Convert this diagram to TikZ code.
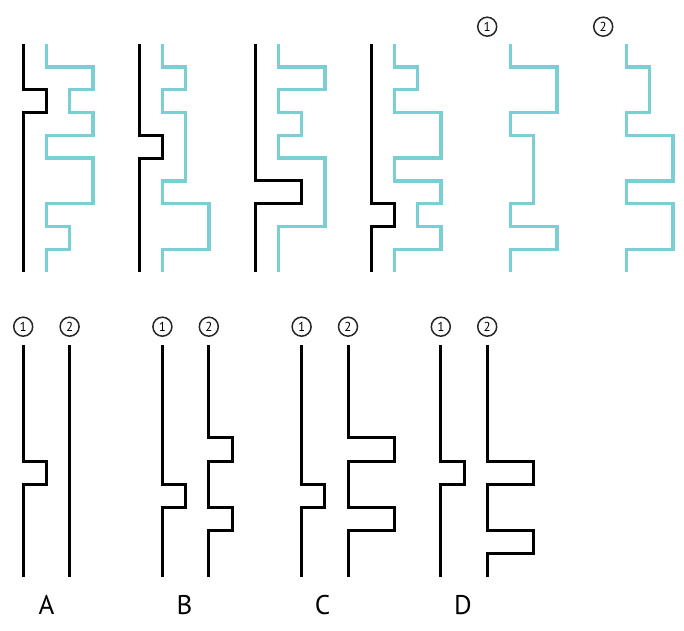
\documentclass[tikz,border=0pt]{standalone}
\usepackage{fontspec}
\setmainfont{PT Sans}
\definecolor{tealline}{RGB}{122,207,212}
\tikzset{
  blk/.style={line width=3pt, black, line join=miter, line cap=butt},
  cyn/.style={line width=3.4pt, tealline, line join=miter, line cap=butt},
  numc/.style={circle, draw=black!85, line width=1.5pt, minimum size=19pt, inner sep=0pt, font=\fontsize{13}{13}\selectfont},
  lbl/.style={font=\fontsize{27}{27}\selectfont, inner sep=0pt}
}
\begin{document}
\begin{tikzpicture}[x=1pt,y=-1pt]
\useasboundingbox (0,0) rectangle (684,630);
% ---------------- top row ----------------
\begin{scope}[x=23.2pt,y=-22.8pt,yshift=-44pt]
  % panel 1
  \draw[blk] (1,0)--(1,2)--(2,2)--(2,3)--(1,3)--(1,10);
  \draw[cyn] (2,0)--(2,1)--(4,1)--(4,2)--(3,2)--(3,3)--(4,3)--(4,4)--(2,4)--(2,5)--(4,5)--(4,7)--(2,7)--(2,8)--(3,8)--(3,9)--(2,9)--(2,10);
  % panel 2
  \draw[blk] (6,0)--(6,4)--(7,4)--(7,5)--(6,5)--(6,10);
  \draw[cyn] (7,0)--(7,1)--(8,1)--(8,2)--(7,2)--(7,3)--(8,3)--(8,6)--(7,6)--(7,7)--(9,7)--(9,9)--(7,9)--(7,10);
  % panel 3
  \draw[blk] (11,0)--(11,6)--(13,6)--(13,7)--(11,7)--(11,10);
  \draw[cyn] (12,0)--(12,1)--(14,1)--(14,2)--(12,2)--(12,3)--(13,3)--(13,4)--(12,4)--(12,5)--(14,5)--(14,8)--(12,8)--(12,10);
  % panel 4
  \draw[blk] (16,0)--(16,7)--(17,7)--(17,8)--(16,8)--(16,10);
  \draw[cyn] (17,0)--(17,1)--(18,1)--(18,2)--(17,2)--(17,3)--(19,3)--(19,5)--(17,5)--(17,6)--(19,6)--(19,7)--(18,7)--(18,8)--(19,8)--(19,9)--(17,9)--(17,10);
  % strands 1 and 2
  \node[numc] (t1) at (21,-0.76) {1};
  \node[numc] (t2) at (26,-0.76) {2};
  \draw[cyn] (22,0)--(22,1)--(24,1)--(24,3)--(22,3)--(22,4)--(23,4)--(23,7)--(22,7)--(22,8)--(24,8)--(24,9)--(22,9)--(22,10);
  \draw[cyn] (27,0)--(27,1)--(28,1)--(28,3)--(27,3)--(27,4)--(29,4)--(29,6)--(27,6)--(27,7)--(29,7)--(29,9)--(27,9)--(27,10);
\end{scope}
% ---------------- bottom row ----------------
\begin{scope}[x=23.2pt,y=-23.2pt,yshift=-345pt]
  % A
  \node[numc] (a1) at (1,-0.79) {1};
  \node[numc] (a2) at (3,-0.79) {2};
  \draw[blk] (1,0)--(1,5)--(2,5)--(2,6)--(1,6)--(1,10);
  \draw[blk] (3,0)--(3,10);
  \node[lbl] (la) at (2,11.2) {A};
  % B
  \node[numc] (b1) at (7,-0.79) {1};
  \node[numc] (b2) at (9,-0.79) {2};
  \draw[blk] (7,0)--(7,6)--(8,6)--(8,7)--(7,7)--(7,10);
  \draw[blk] (9,0)--(9,4)--(10,4)--(10,5)--(9,5)--(9,7)--(10,7)--(10,8)--(9,8)--(9,10);
  \node[lbl] (lb) at (7.95,11.2) {B};
  % C
  \node[numc] (c1) at (13,-0.79) {1};
  \node[numc] (c2) at (15,-0.79) {2};
  \draw[blk] (13,0)--(13,6)--(14,6)--(14,7)--(13,7)--(13,10);
  \draw[blk] (15,0)--(15,4)--(17,4)--(17,5)--(15,5)--(15,7)--(17,7)--(17,8)--(15,8)--(15,10);
  \node[lbl] (lc) at (13.9,11.2) {C};
  % D
  \node[numc] (d1) at (19,-0.79) {1};
  \node[numc] (d2) at (21,-0.79) {2};
  \draw[blk] (19,0)--(19,5)--(20,5)--(20,6)--(19,6)--(19,10);
  \draw[blk] (21,0)--(21,5)--(23,5)--(23,6)--(21,6)--(21,8)--(23,8)--(23,9)--(21,9)--(21,10);
  \node[lbl] (ld) at (19.95,11.2) {D};
\end{scope}
\end{tikzpicture}
\end{document}
